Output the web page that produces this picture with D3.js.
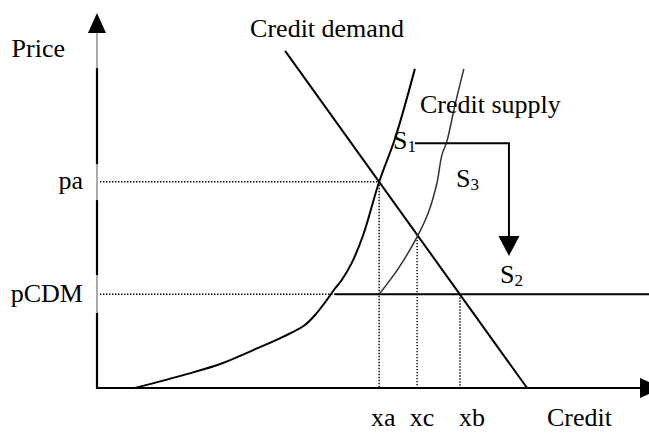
<!DOCTYPE html>
<html>
<head>
<meta charset="utf-8">
<script src="https://cdn.jsdelivr.net/npm/d3@7"></script>
<style>
  html, body { margin: 0; padding: 0; background: #fff; }
  svg { display: block; }
  text { font-family: 'Liberation Serif', 'Times New Roman', serif; fill: #000; }
</style>
</head>
<body>
<svg id="chart" width="649" height="433"></svg>
<script>
// Credit market: demand, two supply curves, CDM price floor
// values in chart units (credit 0..100, price 0..100)
const demandCurve = [[34.2, 89.9], [78.2, 0]];
const supplyCurve1 = [
  [6.9, 0], [16.3, 3.7], [22.4, 6.4], [28.4, 10.1], [33.9, 13.7], [37.8, 16.8],
  [39.9, 19.9], [41.8, 23.5], [43.3, 26.6], [44.5, 28.8], [46.3, 33.3], [48.4, 40.8],
  [51.3, 55], [54.2, 66.6], [57.8, 85.1]
];
const supplyCurve2 = [
  [51.3, 25], [54.8, 31.9], [58.2, 40.3], [60.2, 46.6], [61.8, 54.6], [62.7, 62.1],
  [63.6, 65.7], [65.1, 75.5], [66.7, 85.1]
];
const priceLabels = ['pa', 'pCDM'];
const priceValues = [55, 25];
const creditLabels = ['xa', 'xc', 'xb'];
const creditValues = [51.3, 58.2, 66];
const creditTops = [55, 40.3, 25];      // where each dotted drop line starts
const floorStart = 43.3;                 // pCDM solid line begins at supply 1
const shiftPath = [[57.8, 65.3], [74.9, 65.3], [74.9, 35.2]]; // S1 -> S2

(function () {
  'use strict';
  const svg = d3.select('#chart');
  const x = d3.scaleLinear().domain([0, 100]).range([97, 647]);
  const y = d3.scaleLinear().domain([0, 100]).range([388, 13]);
  const FS = 26;

  // ---- axes (plain arrows, no ticks)
  svg.append('line')
    .attr('x1', x(0)).attr('x2', x(0)).attr('y1', y(0)).attr('y2', y(94.7))
    .attr('stroke', '#555').attr('stroke-width', 1);
  // thick parts of the price axis (label boxes cover the rest)
  [[0, 20], [30.4, 50.1], [60, 85.3]].forEach((s) => {
    svg.append('line')
      .attr('x1', x(0)).attr('x2', x(0)).attr('y1', y(s[0]) + 1).attr('y2', y(s[1]))
      .attr('stroke', '#000').attr('stroke-width', 2.2);
  });
  svg.append('path')
    .attr('d', `M${x(0) - 9},${y(100) + 20}L${x(0)},${y(100)}L${x(0) + 9},${y(100) + 20}Z`)
    .attr('fill', '#000');

  svg.append('line')
    .attr('x1', x(0)).attr('x2', 641).attr('y1', y(0)).attr('y2', y(0))
    .attr('stroke', '#000').attr('stroke-width', 2.2);
  svg.append('path')
    .attr('d', `M640,${y(0) - 10}L662,${y(0)}L640,${y(0) + 10}Z`)
    .attr('fill', '#000');

  // ---- dotted guide lines
  const dotted = (x1, y1, x2, y2) => svg.append('line')
    .attr('x1', x1).attr('y1', y1).attr('x2', x2).attr('y2', y2)
    .attr('stroke', '#000').attr('stroke-width', 1.4).attr('stroke-dasharray', '1.4 1.6');

  dotted(x(0) + 3, y(priceValues[0]), x(creditValues[0]), y(priceValues[0]));
  dotted(x(0) + 3, y(priceValues[1]), x(floorStart) + 5, y(priceValues[1]));
  creditValues.forEach((v, i) => dotted(x(v), y(creditTops[i]), x(v), y(0) - 1));

  // pCDM floor (solid to the right edge)
  svg.append('line')
    .attr('x1', x(floorStart)).attr('x2', 649).attr('y1', y(priceValues[1])).attr('y2', y(priceValues[1]))
    .attr('stroke', '#000').attr('stroke-width', 2);

  // ---- curves
  const line = d3.line().x((d) => x(d[0])).y((d) => y(d[1]));
  const curve = d3.line().x((d) => x(d[0])).y((d) => y(d[1])).curve(d3.curveCatmullRom.alpha(0.5));

  svg.append('path').datum(demandCurve).attr('d', line)
    .attr('fill', 'none').attr('stroke', '#000').attr('stroke-width', 2);
  svg.append('path').datum(supplyCurve1).attr('d', curve)
    .attr('fill', 'none').attr('stroke', '#000').attr('stroke-width', 2);
  svg.append('path').datum(supplyCurve2).attr('d', curve)
    .attr('fill', 'none').attr('stroke', '#333').attr('stroke-width', 1.5);

  // ---- S1 -> S2 shift arrow
  const tip = shiftPath[shiftPath.length - 1];
  const pts = shiftPath.map((d) => [x(d[0]), y(d[1])]);
  pts[pts.length - 1] = [x(tip[0]), y(tip[1]) - 20];
  svg.append('path').attr('d', d3.line()(pts))
    .attr('fill', 'none').attr('stroke', '#000').attr('stroke-width', 2);
  svg.append('path')
    .attr('d', `M${x(tip[0]) - 10.5},${y(tip[1]) - 20}L${x(tip[0])},${y(tip[1])}L${x(tip[0]) + 10.5},${y(tip[1]) - 20}Z`)
    .attr('fill', '#000');

  // ---- text
  const label = (tx, ty, txt, anchor) => svg.append('text')
    .attr('x', tx).attr('y', ty).attr('text-anchor', anchor || 'start')
    .style('font-size', FS + 'px').text(txt);

  label(x(0) - 32, 57, 'Price', 'end');
  label(x(demandCurve[0][0]) - 35, y(demandCurve[0][1]) - 14, 'Credit demand');
  label(420, 113, 'Credit supply');
  label(547, 426, 'Credit');

  priceLabels.forEach((p, i) => label(x(0) - 14, y(priceValues[i]) + 7.5, p, 'end'));
  const dx = [4, 5, 12];
  creditLabels.forEach((c, i) => label(x(creditValues[i]) + dx[i], 426, c, 'middle'));

  // S labels with subscripts
  const sLabel = (tx, ty, sub) => {
    const t = label(tx, ty, 'S');
    t.append('tspan').attr('dy', 3).style('font-size', '17px').text(sub);
  };
  sLabel(393, 149, '1');
  sLabel(456, 187, '3');
  sLabel(500, 283, '2');
})();
</script>
</body>
</html>
